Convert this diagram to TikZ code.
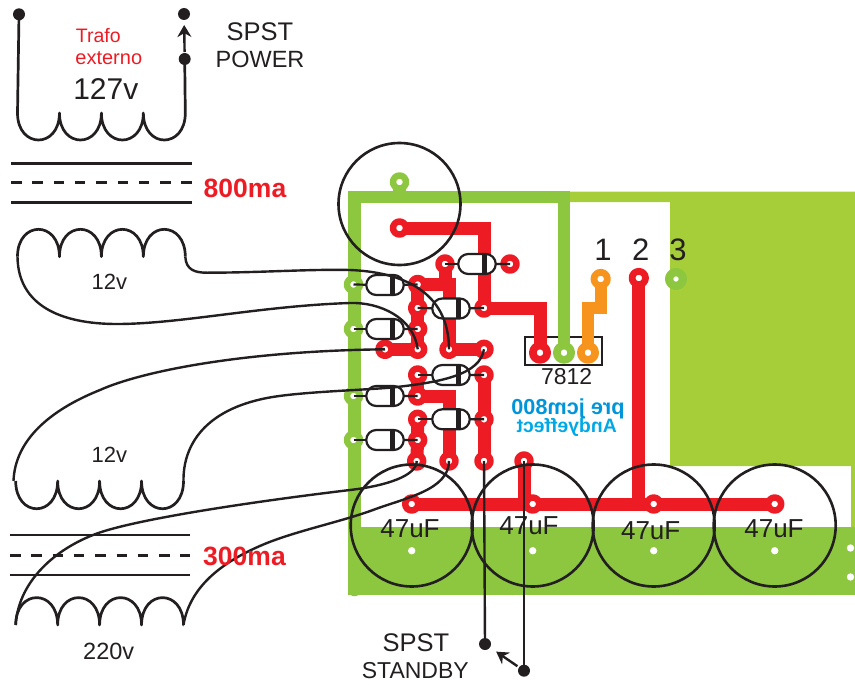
\documentclass[tikz,border=0pt]{standalone}
\usepackage{fontspec}
\setmainfont{Liberation Sans}
\usepackage{graphicx}
\usetikzlibrary{arrows.meta,backgrounds,shapes.misc}
\definecolor{pcbgreen}{HTML}{8DC63F}
\definecolor{pcblight}{HTML}{A6CE39}
\definecolor{pcbred}{HTML}{ED1C24}
\definecolor{pcborange}{HTML}{F7941D}
\definecolor{ink}{HTML}{231F20}
\definecolor{labelblue}{HTML}{0095DA}
\definecolor{labelcyan}{HTML}{00A8E6}
\newcommand{\px}[1]{\fontsize{#1}{#1}\selectfont}
\newcommand{\coilpath}[1]{.. controls +(0,#1) and +(0,#1) .. ++(41.95,0)
    .. controls +(0,#1) and +(0,#1) .. ++(41.95,0)
    .. controls +(0,#1) and +(0,#1) .. ++(41.95,0)
    .. controls +(0,#1) and +(0,#1) .. ++(41.95,0)}

\begin{document}
\begin{tikzpicture}[x=1pt,y=-1pt,node distance=121pt,outer sep=0pt,inner sep=0pt,
        line join=round,text=ink,
        red pad/.style={circle,draw=pcbred,fill=white,line width=6.5pt,minimum size=13pt},
        green pad/.style={red pad,draw=pcbgreen},
        big pad/.style={line width=7.7pt,minimum size=14.3pt},
        out pad/.style={line width=6.8pt,minimum size=13.4pt},
        cap node/.style={circle,draw=ink,line width=2.6pt,minimum size=122pt},
        hole node/.style={circle,fill=white,minimum size=7.4pt},
        dot node/.style={circle,fill=ink,minimum size=12pt},
        diode node/.style={rounded rectangle,draw=ink,fill=white,line width=2.2pt,
            minimum width=37.5pt,minimum height=20pt,
            path picture={\fill[ink] ([xshift=4.8pt]path picture bounding box.south)
                rectangle ([xshift=10.4pt]path picture bounding box.north);}},
        red track/.style={draw=pcbred,line width=13pt},
        green track/.style={draw=pcbgreen,line width=12.5pt,line cap=round},
        orange track/.style={draw=pcborange,line width=12pt},
        wire/.style={draw=ink,line width=2.4pt},
        coil/.style={draw=ink,line width=2.7pt},
        lead/.style={draw=ink,line width=2.2pt},
        core/.style={draw=ink,line width=2.5pt},
        core dash/.style={core,dash pattern=on 10.5pt off 10.8pt},
        switch arrow/.style={draw=ink,line width=2.4pt,-{Stealth[length=12pt,width=14pt]}}]

    \useasboundingbox (0,0) rectangle (855,685);

    % pads on the board
    \node[green pad] (gtop) at (399.5,182) {};
    \node[green pad] (g1) at (353.5,284.5) {};
    \node[green pad] (g2) at (353.5,329) {};
    \node[green pad] (g3) at (353.5,396) {};
    \node[green pad] (g4) at (353.5,440) {};

    \node[red pad] (r1) at (399.5,228) {};
    \node[red pad] (r2) at (445,264) {};
    \node[red pad] (r3) at (510,264) {};
    \node[red pad] (r4) at (417.7,284.5) {};
    \node[red pad] (r5) at (417.7,308) {};
    \node[red pad] (r6) at (484,308) {};
    \node[red pad] (r7) at (417.7,329) {};
    \node[red pad] (r8) at (385,349.3) {};
    \node[red pad] (r9) at (417.7,349.3) {};
    \node[red pad] (r10) at (449,349.3) {};
    \node[red pad] (r11) at (484,349.3) {};
    \node[red pad] (r12) at (417.7,375) {};
    \node[red pad] (r13) at (484,375) {};
    \node[red pad] (r14) at (417.7,396) {};
    \node[red pad] (r15) at (417.7,419.3) {};
    \node[red pad] (r16) at (484,419.3) {};
    \node[red pad] (r17) at (417.7,440) {};
    \node[red pad] (r18) at (416.7,461) {};
    \node[red pad] (r19) at (449,461) {};
    \node[red pad] (r20) at (484,461) {};
    \node[red pad] (r21) at (524,461) {};

    \node[red pad,big pad] (reg1) at (540,352.7) {};
    \node[green pad,big pad] (reg2) at (564,352.7) {};
    \node[red pad,big pad,draw=pcborange] (reg3) at (588,352.7) {};

    \node[red pad,out pad,draw=pcborange] (out1) at (600.7,279) {};
    \node[red pad,out pad] (out2) at (638.8,278) {};
    \node[green pad,line width=8.3pt,minimum size=13.7pt] (out3) at (676,279) {};

    \node[red pad] (cp1) at (411.7,504) {};
    \node[red pad] (cp2) [right of=cp1] {};
    \node[red pad] (cp3) [right of=cp2] {};
    \node[red pad] (cp4) [right of=cp3] {};

    \begin{scope}[on background layer]
        \fill[pcblight] (570,191.5) -- (855,191.5) -- (855,527) -- (851,527) -- (851,466)
            -- (670,466) -- (670,202) -- (570,202) -- cycle;
        \fill[pcbgreen] (347.5,527) rectangle (855,595);

        \node[rectangle,draw=ink,line width=1.7pt,minimum width=77pt,minimum height=28pt]
            (box) at (563.5,351) {};

        \draw[green track] (reg2) |- (gtop |- 0,197) -- (354.5,197) -- (354.5,590);
        \draw[green track,line cap=butt] (gtop) -- (gtop |- 0,197);

        \draw[red track] (r1) -| (r6);
        \draw[red track] (r6) -| (reg1);
        \draw[red track] (r2) -- (r2 |- r4);
        \draw[red track] (r4) -| (r10);
        \draw[red track] (r10) -- (r11);
        \draw[red track] (r4) -- (r5);
        \draw[red track] (r5) -- (r7) -- (r9);
        \draw[red track] (r8) -- (r9);
        \draw[red track] (r12) -- (r14);
        \draw[red track] (r14) -| (r19);
        \draw[red track] (r13) -- (r16) -- (r20);
        \draw[red track] (r15) -- (r17) -- (r18);
        \draw[red track] (r21) -- (r21 |- cp1);
        \draw[red track] (cp1) -- (cp2) -- (cp3) -- (cp4);
        \draw[red track] (out2) -- (out2 |- cp3);
        \draw[orange track] (out1) -- (600.7,308) -- (588,308) -- (reg3);
    \end{scope}

    % diodes
    \node[diode node] (d1) at (477,264) {};
    \node[diode node] (d2) at (385,285) {};
    \node[diode node] (d3) at (451,308.5) {};
    \node[diode node] (d4) at (385,329) {};
    \node[diode node] (d5) at (451,375) {};
    \node[diode node] (d6) at (385,396) {};
    \node[diode node] (d7) at (451,419.3) {};
    \node[diode node] (d8) at (385,440) {};

    \path[lead]
    (r2.center) edge (d1)
    (d1) edge (r3.center)
    (g1.center) edge (d2)
    (d2) edge (r4.center)
    (r5.center) edge (d3)
    (d3) edge (r6.center)
    (g2.center) edge (d4)
    (d4) edge (r7.center)
    (r12.center) edge (d5)
    (d5) edge (r13.center)
    (g3.center) edge (d6)
    (d6) edge (r14.center)
    (r15.center) edge (d7)
    (d7) edge (r16.center)
    (g4.center) edge (d8)
    (d8) edge (r17.center);

    % capacitors and the round part
    \node[cap node] (relay) at (399.5,204) {};
    \node[cap node] (c1) at (411.7,525.5) {};
    \node[cap node] (c2) [right of=c1] {};
    \node[cap node] (c3) [right of=c2] {};
    \node[cap node] (c4) [right of=c3] {};

    \node[hole node] (h1) at (411.7,550.7) {};
    \node[hole node] (h2) [right of=h1] {};
    \node[hole node] (h3) [right of=h2] {};
    \node[hole node] (h4) [right of=h3] {};
    \node[hole node] (h5) at (850.5,548) {};
    \node[hole node] (h6) at (850.5,577) {};

    % transformer
    \coordinate (k1a) at (17.5,113);
    \coordinate (k2a) at (17.5,256.7);
    \coordinate (k2b) at (185.3,256.7);
    \coordinate (k3a) at (15.7,481);
    \coordinate (k3b) at (183.5,481);
    \coordinate (k4a) at (15.7,625);
    \coordinate (k4b) at (183.5,625);
    \coordinate (k3l) at (13.5,481);
    \coordinate (t1a) at (11,163.3);
    \coordinate (t1b) at (191.7,163.3);
    \coordinate (t2a) at (11,182.7);
    \coordinate (t2b) at (191.7,182.7);
    \coordinate (t3a) at (11,202.3);
    \coordinate (t3b) at (191.7,202.3);
    \coordinate (t4a) at (10,535);
    \coordinate (t4b) at (190,535);
    \coordinate (t5a) at (10,555.3);
    \coordinate (t5b) at (190,555.3);
    \coordinate (t6a) at (10,575);
    \coordinate (t6b) at (190,575);

    \node[dot node] (sw1) at (19,14.3) {};
    \node[dot node] (sw2) at (184,14) {};
    \node[dot node] (sw3) at (184.7,59) {};
    \node[dot node] (sw4) at (485,644) {};
    \node[dot node] (sw5) at (524,670.7) {};

    \draw[coil] (sw1.center) -- (k1a) \coilpath{36} -- (sw3.center);
    \draw[coil] (k2a) \coilpath{-36.5};
    \draw[coil] (k3a) \coilpath{37};
    \draw[coil] (k4a) \coilpath{-36.5} -- (k4b);

    \draw[core] (t1a) -- (t1b);
    \draw[core dash] (t2a) -- (t2b);
    \draw[core] (t3a) -- (t3b);
    \draw[core] (t4a) -- (t4b);
    \draw[core dash] (t5a) -- (t5b);
    \draw[core] (t6a) -- (t6b);

    \draw[switch arrow,shorten >=5pt,shorten <=1pt] (sw3) -- (sw2);
    \draw[switch arrow,shorten >=7.5pt,shorten <=2pt] (sw5) -- (sw4);

    % wires to the board
    \draw[wire] (k2b) .. controls (186,270) and (195,272.7) .. (207,272.7)
        .. controls (260,272.7) and (310,269) .. (350,270)
        .. controls (400,272) and (449,290) .. (r10.center);
    \draw[wire] (k2a) .. controls (18,305) and (60,324) .. (117,324)
        .. controls (180,324) and (260,306) .. (350,303)
        .. controls (380,302) and (414,318) .. (r9.center);
    \draw[wire] (k3l) .. controls (15,440) and (50,410) .. (100,390)
        .. controls (140,372) and (240,351) .. (r8.center);
    \draw[wire] (k3b) .. controls (183,445) and (205,410) .. (267,398)
        .. controls (300,391.5) and (370,390) .. (397,387)
        .. controls (440,382) and (480,375) .. (r11.center);
    \draw[wire] (k4a) .. controls (18,585) and (50,552) .. (93,535)
        .. controls (130,520) and (250,502) .. (350,490)
        .. controls (385,486) and (417,476) .. (r18.center);
    \draw[wire] (k4b) .. controls (190,585) and (225,560) .. (267,543)
        .. controls (300,530) and (340,522) .. (373,510)
        .. controls (405,498) and (449,490) .. (r19.center);
    \draw[wire] (r20.center) -- (sw4);
    \draw[wire] (r21.center) -- (sw5);

    % texts
    \node[text=pcbred,font=\px{19.5}] (l1) at (98.3,35.5) {Trafo};
    \node[text=pcbred,font=\px{20}] (l2) at (108.8,58.5) {externo};
    \node[font=\px{30}] (l3) at (105.8,89) {127v};
    \node[font=\px{25.5}] (l4) at (260,31.7) {SPST};
    \node[font=\px{23.5}] (l5) at (260,59.3) {POWER};
    \node[text=pcbred,font=\bfseries\px{26.5}] (l6) at (245,188) {800ma};
    \node[text=pcbred,font=\bfseries\px{26.5}] (l7) at (244.5,556) {300ma};
    \node[font=\px{22}] (l8) at (109.3,282.3) {12v};
    \node[font=\px{22}] (l9) at (109.3,455) {12v};
    \node[font=\px{23.5}] (l10) at (108.7,651) {220v};
    \node[font=\px{25.5}] (l11) at (416,642.7) {SPST};
    \node[font=\px{23}] (l12) at (415.3,670.7) {STANDBY};
    \node[font=\px{23}] (l13) at (566.7,376.7) {7812};
    \node[text=labelblue,font=\bfseries\px{21.7}] (l14) at (568,408.5) {\reflectbox{pre jcm800}};
    \node[text=labelcyan,font=\bfseries\px{19.4}] (l15) at (566.7,427.7) {\reflectbox{Andyeffect}};
    \node[font=\px{31}] (l16) at (603,249.5) {1};
    \node[font=\px{31}] (l17) at (640.7,249.5) {2};
    \node[font=\px{31}] (l18) at (678,249.5) {3};
    \node[font=\px{26}] (l19) at (410,529) {47uF};
    \node[font=\px{26}] (l20) at (529,526) {47uF};
    \node[font=\px{26}] (l21) at (650.7,531) {47uF};
    \node[font=\px{26}] (l22) at (774,529) {47uF};

\end{tikzpicture}
\end{document}
